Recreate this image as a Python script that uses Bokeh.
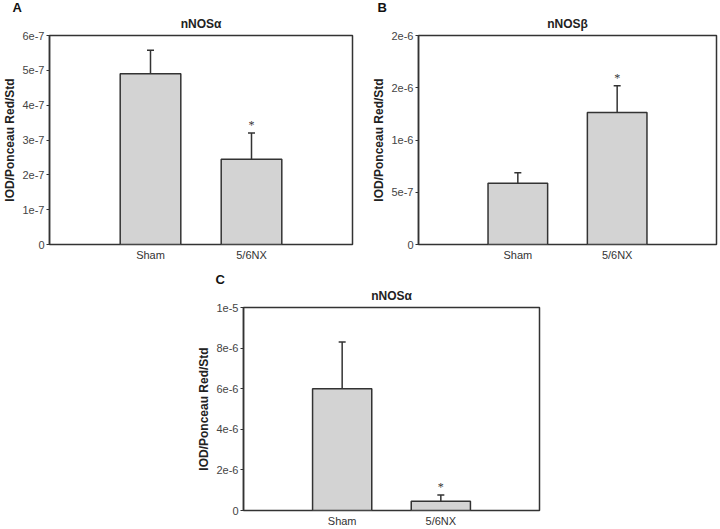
from bokeh.plotting import figure
from bokeh.models import Range1d, FixedTicker, Title, Spacer
from bokeh.layouts import row, column
from bokeh.embed import file_html
from bokeh.resources import INLINE

# ---------------- data ----------------
categories = ["Sham", "5/6NX"]
x_pos = [1, 2]

a_title = "nNOSα"
a_mean = [4.9e-7, 2.45e-7]
a_sem = [0.68e-7, 0.75e-7]
a_sig = ["", "*"]
a_ticks = [0, 1e-7, 2e-7, 3e-7, 4e-7, 5e-7, 6e-7]
a_tick_labels = ["0", "1e-7", "2e-7", "3e-7", "4e-7", "5e-7", "6e-7"]

b_title = "nNOSβ"
b_mean = [5.86e-7, 1.263e-6]
b_sem = [1.0e-7, 2.55e-7]
b_sig = ["", "*"]
b_ticks = [0, 5e-7, 1e-6, 1.5e-6, 2e-6]
b_tick_labels = ["0", "5e-7", "1e-6", "2e-6", "2e-6"]

c_title = "nNOSα"
c_mean = [6.0e-6, 4.5e-7]
c_sem = [2.3e-6, 3.1e-7]
c_sig = ["", "*"]
c_ticks = [0, 2e-6, 4e-6, 6e-6, 8e-6, 1e-5]
c_tick_labels = ["0", "2e-6", "4e-6", "6e-6", "8e-6", "1e-5"]

y_label = "IOD/Ponceau Red/Std"

FONT = "Liberation Sans"
DARK = "#333333"
TICK_TXT = "#444444"
BAR_FILL = "#d3d3d3"


def panel(letter, title, mean, sem, sig, ticks, tick_labels, width, height,
          bl, br, bt, bb, letter_dx):
    p = figure(width=width, height=height, output_backend="svg",
               toolbar_location=None, x_range=Range1d(0, 3),
               y_range=Range1d(ticks[0], ticks[-1]),
               min_border_left=bl, min_border_right=br,
               min_border_top=bt, min_border_bottom=bb)
    p.background_fill_color = "white"
    p.border_fill_color = "white"
    p.outline_line_color = DARK
    p.outline_line_width = 1.5
    p.outline_line_alpha = 1.0
    p.xgrid.visible = False
    p.ygrid.visible = False

    # bars
    p.vbar(x=x_pos, top=mean, bottom=0, width=0.6, fill_color=BAR_FILL,
           line_color=DARK, line_width=1.5)
    # upper error bars
    tops = [m + s for m, s in zip(mean, sem)]
    p.segment(x0=x_pos, y0=mean, x1=x_pos, y1=tops, line_color=DARK,
              line_width=1.5)
    p.scatter(x=x_pos, y=tops, marker="dash", size=7, line_color=DARK,
              line_width=1.5)
    # significance stars
    p.text(x=x_pos, y=tops, text=sig, text_align="center",
           text_baseline="bottom", y_offset=-1, text_font=FONT,
           text_font_size="12px", text_color=DARK)

    # x axis
    xa = p.xaxis[0]
    xa.ticker = FixedTicker(ticks=x_pos)
    xa.major_label_overrides = {x: c for x, c in zip(x_pos, categories)}
    xa.axis_line_color = None
    xa.major_tick_line_color = None
    xa.major_tick_in = 0
    xa.major_tick_out = 0
    xa.minor_tick_line_color = None
    xa.minor_tick_in = 0
    xa.minor_tick_out = 0
    xa.major_label_standoff = 4
    xa.major_label_text_font = FONT
    xa.major_label_text_font_size = "11px"
    xa.major_label_text_color = DARK

    # y axis
    ya = p.yaxis[0]
    ya.ticker = FixedTicker(ticks=ticks)
    ya.major_label_overrides = {t: l for t, l in zip(ticks, tick_labels)}
    ya.axis_line_color = DARK
    ya.axis_line_width = 1.5
    ya.major_tick_line_color = DARK
    ya.major_tick_in = 0
    ya.major_tick_out = 3
    ya.minor_tick_line_color = None
    ya.minor_tick_in = 0
    ya.minor_tick_out = 0
    ya.major_label_standoff = 2
    ya.major_label_text_font = FONT
    ya.major_label_text_font_size = "11px"
    ya.major_label_text_color = TICK_TXT
    ya.axis_label = y_label
    ya.axis_label_standoff = 2
    ya.axis_label_text_font = FONT
    ya.axis_label_text_font_size = "12px"
    ya.axis_label_text_font_style = "bold"
    ya.axis_label_text_color = "#222222"

    # title (nearest the frame), panel letter above it, small top gap
    p.add_layout(Title(text=title, align="center", standoff=9,
                       text_font=FONT, text_font_size="12px",
                       text_font_style="bold", text_color="#222222"), "above")
    p.add_layout(Title(text=letter, align="left", offset=letter_dx,
                       standoff=-9,
                       text_font=FONT, text_font_size="13px",
                       text_font_style="bold", text_color="#111111"), "above")
    p.add_layout(Title(text=" ", align="left", standoff=-9,
                       text_font=FONT, text_font_size="8px"), "above")
    return p


pA = panel("A", a_title, a_mean, a_sem, a_sig, a_ticks, a_tick_labels,
           width=360, height=272, bl=49, br=8, bt=35, bb=28, letter_dx=-37)
pB = panel("B", b_title, b_mean, b_sem, b_sig, b_ticks, b_tick_labels,
           width=358, height=272, bl=58, br=2, bt=35, bb=28, letter_dx=-41)
pC = panel("C", c_title, c_mean, c_sem, c_sig, c_ticks, c_tick_labels,
           width=359, height=257, bl=53, br=10, bt=35, bb=17, letter_dx=-28)

layout = column(row(pA, pB), row(Spacer(width=190, height=257), pC))

open("out.html", "w").write(file_html(layout, INLINE))
